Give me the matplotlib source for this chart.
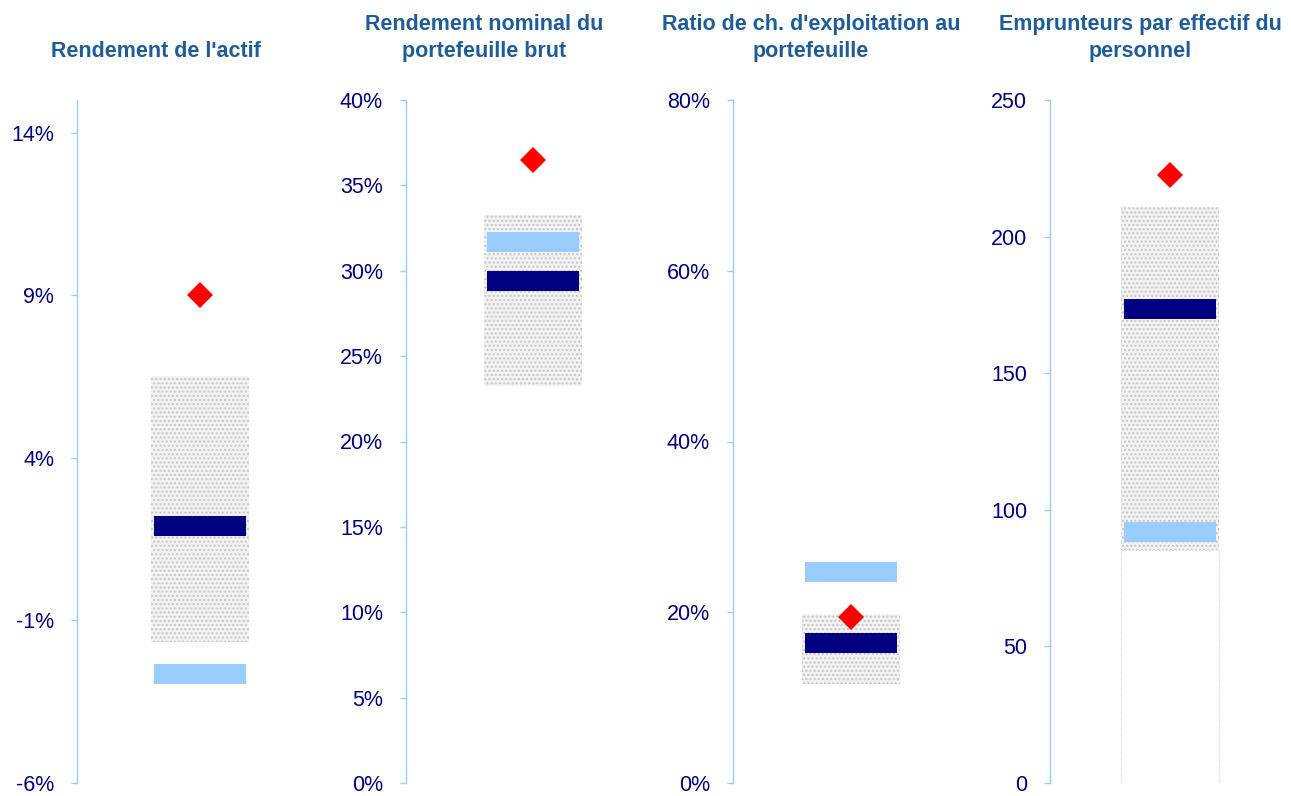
import numpy as np
import matplotlib.pyplot as plt

plt.rcParams['font.family'] = ['Liberation Sans', 'DejaVu Sans']

# Indicator panels: range (min/max), two peer values and the institution (diamond)
titles = ["Rendement de l'actif",
          "Rendement nominal du\nportefeuille brut",
          "Ratio de ch. d'exploitation au\nportefeuille",
          "Emprunteurs par effectif du\npersonnel"]
range_min = [-1.65, 23.25, 11.6, 85.3]
range_max = [6.5, 33.25, 19.8, 211]
navy_vals = [1.9, 29.4, 16.4, 173.6]
light_vals = [-2.65, 31.7, 24.7, 92]
diamond_vals = [9.0, 36.5, 19.4, 222.7]
ylims = [(-6, 15), (0, 40), (0, 80), (0, 250)]
yticks = [[-6, -1, 4, 9, 14], [0, 5, 10, 15, 20, 25, 30, 35, 40],
          [0, 20, 40, 60, 80], [0, 50, 100, 150, 200, 250]]
tick_fmt = ['{:d}%', '{:d}%', '{:d}%', '{:d}']
base_outline = [False, False, False, True]

W, H = 1291, 796
fig = plt.figure(figsize=(W / 100, H / 100), dpi=100)

ax_left = [77, 406, 733, 1050]
ax_width = [246, 254, 236, 240]
title_x = [156, 484, 811, 1140]
top, bottom = 100, 783
bar_px = 98

navy = '#000080'
light = '#99CCFF'
axis_col = '#99CCFF'
title_col = '#1F5C99'

for i in range(4):
    ax = fig.add_axes([ax_left[i] / W, 1 - bottom / H, ax_width[i] / W, (bottom - top) / H])
    ax.set_xlim(-0.5, 0.5)
    ax.set_ylim(*ylims[i])
    bw = bar_px / ax_width[i]
    inset = 3 / ax_width[i]

    # transparent base part of the stacked bar
    if base_outline[i]:
        ax.bar(0, range_min[i], width=bw, bottom=0, facecolor='none',
               edgecolor='#D0D0D0', linewidth=0.6, linestyle=(0, (2, 2)))
    # dotted range box
    ax.bar(0, range_max[i] - range_min[i], width=bw, bottom=range_min[i],
           facecolor='#F2F2F2', edgecolor='#C4C4C4', linewidth=0, hatch='....')

    ax.hlines(navy_vals[i], -bw / 2 + inset, bw / 2 - inset, color=navy,
              linewidth=14.4, zorder=3)
    ax.hlines(light_vals[i], -bw / 2 + inset, bw / 2 - inset, color=light,
              linewidth=14.4, zorder=3)
    ax.plot(0, diamond_vals[i], marker='D', markersize=13, color='#FF0000',
            markeredgewidth=0, zorder=4)

    ax.set_yticks(yticks[i])
    ax.set_yticklabels([tick_fmt[i].format(t) for t in yticks[i]],
                       fontsize=15.5, color=navy)
    ax.tick_params(axis='y', color=axis_col, length=4.5, width=1, pad=12)
    ax.set_xticks([])
    for s in ['top', 'right', 'bottom']:
        ax.spines[s].set_visible(False)
    ax.spines['left'].set_color(axis_col)
    ax.spines['left'].set_linewidth(1)

    fig.text(title_x[i] / W, 1 - 62 / H, titles[i], ha='center', va='bottom',
             fontsize=15.5, fontweight='bold', color=title_col, linespacing=1.4)

fig.savefig('out.png', dpi=100)
